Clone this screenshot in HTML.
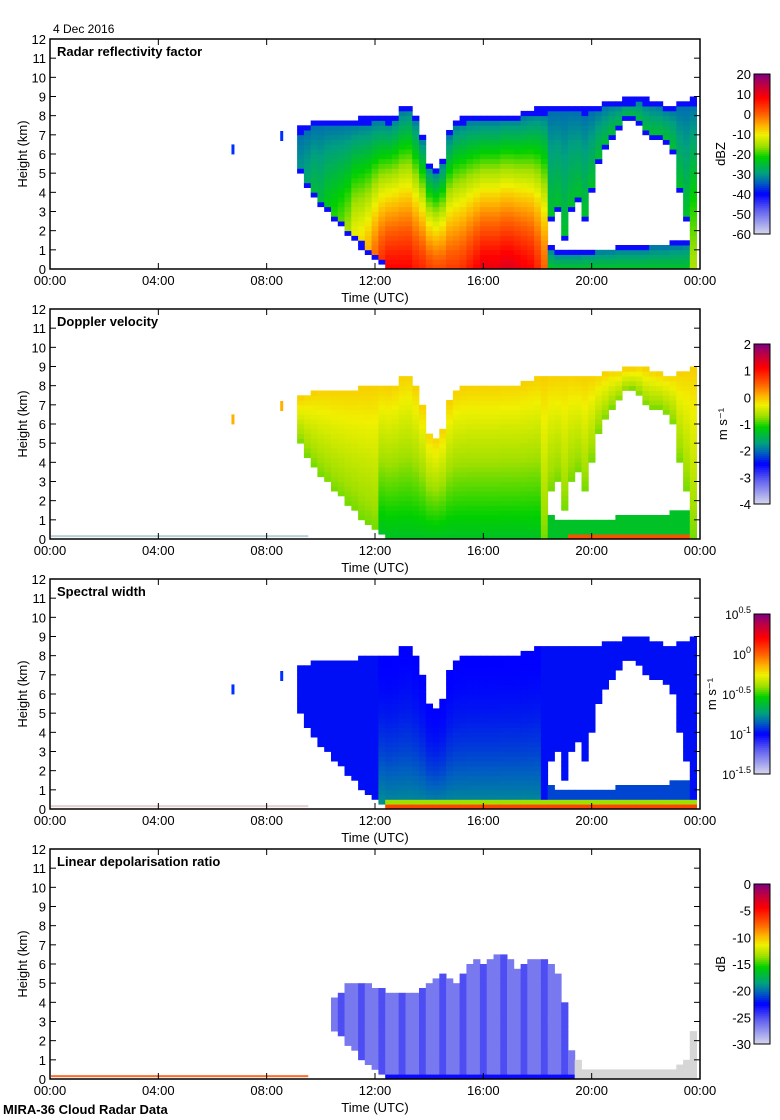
<!DOCTYPE html>
<html><head><meta charset="utf-8">
<style>
html,body{margin:0;padding:0;background:#fff;}
svg{display:block;font-family:"Liberation Sans",sans-serif;}
</style></head>
<body>
<svg id="fig" width="780" height="1120" viewBox="0 0 780 1120" xmlns="http://www.w3.org/2000/svg">
<text x="53" y="33" font-size="12">4 Dec 2016</text>
<text x="3" y="1114" font-size="13" font-weight="bold">MIRA-36 Cloud Radar Data</text>
</svg>
<script>
// ---- data (hours UTC, heights km) ----
const hours   = [9.25,9.5,9.75,10,10.25,10.5,10.75,11,11.25,11.5,11.75,12,12.25,12.5,12.75,13,13.25,13.5,13.75,14,14.25,14.5,14.75,15,15.25,15.5,15.75,16,16.25,16.5,16.75,17,17.25,17.5,17.75,18,18.25,18.5,18.75,19,19.25,19.5,19.75,20,20.25,20.5,20.75,21,21.25,21.5,21.75,22,22.25,22.5,22.75,23,23.25,23.5,23.75];
const cloudTop= [7.4,7.6,7.7,7.8,7.8,7.8,7.8,7.8,7.8,7.9,7.9,8.0,8.0,7.9,8.1,8.5,8.6,8.0,7.0,5.6,5.3,5.8,7.2,7.8,7.9,8.0,8.0,8.0,8.0,8.0,8.1,8.1,8.1,8.2,8.3,8.4,8.4,8.5,8.5,8.6,8.6,8.5,8.4,8.5,8.6,8.7,8.8,8.8,8.9,8.9,9.0,8.9,8.8,8.7,8.6,8.6,8.7,8.8,8.9];
const cloudBase=[5.0,4.3,3.8,3.3,2.9,2.5,2.2,1.8,1.5,1.1,0.8,0.5,0.2,0,0,0,0,0,0,0,0,0,0,0,0,0,0,0,0,0,0,0,0,0,0,0,0,0,0,0,0,0,0,0,0,0,0,0,0,0,0,0,0,0,0,0,0,0,0];
const gapLo   = [0,0,0,0,0,0,0,0,0,0,0,0,0,0,0,0,0,0,0,0,0,0,0,0,0,0,0,0,0,0,0,0,0,0,0,0,0,1.2,0.9,0.9,0.9,0.9,1.0,1.0,1.1,1.1,1.1,1.2,1.2,1.2,1.2,1.2,1.3,1.3,1.3,1.4,1.4,1.5,0];
const gapHi   = [0,0,0,0,0,0,0,0,0,0,0,0,0,0,0,0,0,0,0,0,0,0,0,0,0,0,0,0,0,0,0,0,0,0,0,0,0,2.5,3.0,1.5,3.0,3.5,2.5,4.0,5.5,6.2,6.8,7.2,7.7,7.8,7.5,7.0,6.8,6.8,6.5,6.0,4.0,2.5,0];
const coreDbz = [-30,-28,-25,-25,-22,-20,-18,-15,-10,-8,-5,0,5,8,8,8,8,6,5,3,2,2,3,3,4,6,8,10,10,10,11,11,10,9,8,5,0,-10,-15,-20,-22,-24,-24,-25,-25,-25,-25,-25,-25,-25,-25,-25,-25,-25,-25,-24,-22,-18,-15];
const ldrTop  = [0,0,0,0,0,4.2,4.6,5.0,5.0,5.0,4.9,4.8,4.7,4.6,4.6,4.6,4.5,4.6,4.8,5.0,5.2,5.5,5.2,5.0,5.5,6.0,6.3,6.0,6.2,6.5,6.6,6.3,5.8,6.0,6.3,6.2,6.2,6.0,5.5,4.0,1.5,1.0,0.6,0.5,0.4,0.4,0.4,0.4,0.4,0.4,0.4,0.4,0.4,0.4,0.4,0.5,0.8,1.0,2.5];
const timeTicks = [0,4,8,12,16,20,24];
const timeLabels = ["00:00","04:00","08:00","12:00","16:00","20:00","00:00"];
const heightTicks = [0,1,2,3,4,5,6,7,8,9,10,11,12];
const panelTitles = ["Radar reflectivity factor","Doppler velocity","Spectral width","Linear depolarisation ratio"];
const cbarTicks0 = ["20","10","0","-10","-20","-30","-40","-50","-60"];
const cbarTicks1 = ["2","1","0","-1","-2","-3","-4"];
const cbarTicks3 = ["0","-5","-10","-15","-20","-25","-30"];
const cbarTicks2 = ["0.5","0","-0.5","-1","-1.5"];
const smallEchoHours = [6.7,8.5];
const smallEchoTops = [6.5,7.2];

// ---- layout ----
const L=50,R=700,W=R-L,PH=230,tops=[39,309,579,849];
const NS="http://www.w3.org/2000/svg";
const svg=document.getElementById('fig');
function xs(h){return L+h/24*W;}
function ys(p,km){return tops[p]+PH-km/12*PH;}
function mk(tag,attrs,parent){const e=document.createElementNS(NS,tag);for(const k in attrs)e.setAttribute(k,attrs[k]);(parent||svg).appendChild(e);return e;}
const stops=[[0,[216,216,236]],[0.15,[96,96,240]],[0.25,[0,0,255]],[0.32,[0,96,192]],[0.38,[0,160,128]],[0.48,[0,208,0]],[0.55,[160,224,0]],[0.62,[240,240,0]],[0.68,[255,176,0]],[0.75,[255,96,0]],[0.85,[255,0,0]],[0.93,[192,0,64]],[1,[128,0,128]]];
function cmap(t){t=Math.max(0,Math.min(1,t));for(let i=1;i<stops.length;i++){if(t<=stops[i][0]){const a=stops[i-1],b=stops[i],f=(t-a[0])/(b[0]-a[0]);return 'rgb('+a[1].map((v,j)=>Math.round(v+(b[1][j]-v)*f)).join(',')+')';}}return 'rgb(128,0,128)';}

function valueAt(p,i,km){
  const top=cloudTop[i],base=cloudBase[i];
  const inGap=gapHi[i]>0&&km>gapLo[i]&&km<gapHi[i];
  if(p===3){ if(km<base||km>ldrTop[i]) return null; if(hours[i]>=19.5) return -1; if(hours[i]>=12.5&&km<0.3) return 0.24; return (i%3===0)?0.17:0.12; }
  if(km<base||km>top||inGap) return null;
  const lower=gapHi[i]>0&&km<=gapLo[i];
  const segB=lower?base:(gapHi[i]>0?gapHi[i]:base), segT=lower?gapLo[i]:top;
  const f=(km-segB)/Math.max(0.1,segT-segB);
  const ew=lower?0.13:0.3;
  const edge=(segT-km)<ew||(!lower&&km-segB<0.3&&(gapHi[i]>0||base>0));
  const core=lower?-24:(gapHi[i]>0?-24:coreDbz[i]);
  if(p===0){ if(edge) return 0.24; const z=core+(-34-core)*Math.pow(f,1.2); return (z+60)/80; }
  if(p===1){ const w=core>0?1:0.6; let v=-0.1-1.2*(1-f)*w; if(lower) v=km<0.3&&hours[i]>19?0.6:-1.3; return (v+4)/6; }
  if(p===2){ if(km<0.3&&hours[i]>12.4) return 0.78; if(km<0.6&&hours[i]>12.4) return 0.55; if(lower) return 0.3; return 0.25+(core>0?0.12*Math.pow(1-f,2):0.01); }
}

const cw=W/24*0.25, dk=0.25;
for(let p=0;p<4;p++){
  const g=mk('g',{});  
  const cells=mk('g',{},g);
   
  for(let i=0;i<hours.length;i++){
    for(let km=0;km<9.2;km+=dk){
      const t=valueAt(p,i,km+dk/2); if(t===null) continue;
      const fill=t<0?'#d6d6d6':cmap(t);
      const r=mk('rect',{x:(xs(hours[i]-0.125)).toFixed(1),y:(ys(p,km+dk)).toFixed(1),width:(cw+0.4).toFixed(1),height:(PH/12*dk+0.4).toFixed(1),fill:fill},cells);
      
      
    }
  }
  if(p<3) for(let k=0;k<smallEchoHours.length;k++){
    const r=mk('rect',{x:xs(smallEchoHours[k]),y:ys(p,smallEchoTops[k]),width:3,height:10,fill:p===1?'#ffb000':'#0030ff'},g);
     
  }
  if(p>0){const r=mk('rect',{x:L+1,y:ys(p,0.2),width:xs(9.5)-L,height:2,fill:p===3?'#ff5000':(p===1?'#70a0b0':'#d0a0a0'),opacity:p===3?0.85:0.5},g);
     }
  const fr=mk('rect',{x:L,y:tops[p],width:W,height:PH,fill:'none',stroke:'#000','stroke-width':1.5},g);
   
  timeTicks.forEach((h,k)=>{
    mk('line',{x1:xs(h),x2:xs(h),y1:tops[p]+PH,y2:tops[p]+PH-6,stroke:'#000'},g);
    mk('line',{x1:xs(h),x2:xs(h),y1:tops[p],y2:tops[p]+6,stroke:'#000'},g);
    const tl=mk('text',{x:xs(h),y:tops[p]+PH+16,'font-size':13,'text-anchor':'middle'},g); tl.textContent=timeLabels[k];
     
  });
  heightTicks.forEach(v=>{
    mk('line',{x1:L,x2:L+6,y1:ys(p,v),y2:ys(p,v),stroke:'#000'},g);
    mk('line',{x1:R,x2:R-6,y1:ys(p,v),y2:ys(p,v),stroke:'#000'},g);
    const tl=mk('text',{x:L-4,y:ys(p,v)+5,'font-size':13,'text-anchor':'end'},g); tl.textContent=v;
     
  });
  const yt=mk('text',{x:0,y:0,'font-size':13,'text-anchor':'middle',transform:'translate(27,'+(tops[p]+115)+') rotate(-90)'},g); yt.textContent='Height (km)';
   
  const xt=mk('text',{x:375,y:tops[p]+PH+33,'font-size':13,'text-anchor':'middle'},g); xt.textContent='Time (UTC)';
   
  const pt=mk('text',{x:57,y:tops[p]+17,'font-size':13,'font-weight':'bold'},g); pt.textContent=panelTitles[p];
   
  const cy=tops[p]+35,ch=160;
  const cb=mk('g',{},g);  
  for(let k=0;k<80;k++){mk('rect',{x:754,y:cy+ch-(k+1)*2,width:16,height:2.2,fill:cmap((k+0.5)/80)},cb);}
  mk('rect',{x:754,y:cy,width:16,height:ch,fill:'none',stroke:'#000'},cb);
  let labs;
  if(p===0) labs=cbarTicks0; else if(p===1) labs=cbarTicks1; else if(p===3) labs=cbarTicks3; else labs=null;
  if(labs){ labs.forEach((s,k)=>{const t=mk('text',{x:751,y:cy+k*ch/(labs.length-1)+5,'font-size':13,'text-anchor':'end'},cb); t.textContent=s;
       }); }
  else { cbarTicks2.forEach((s,k)=>{const t=mk('text',{x:751,y:cy+k*40+5,'font-size':12,'text-anchor':'end'},cb); t.textContent='10';
      const sp=mk('tspan',{dy:-6,'font-size':9},t); sp.textContent=s;
       }); }
  const unit=['dBZ','m s\u207B\u00B9','m s\u207B\u00B9','dB'][p];
  const ux=p===2?716:p===1?727:725;
  const ut=mk('text',{x:0,y:0,'font-size':13,'text-anchor':'middle',transform:'translate('+ux+','+(cy+80)+') rotate(-90)'},cb); ut.textContent=unit;
   
}
</script>
</body></html>
